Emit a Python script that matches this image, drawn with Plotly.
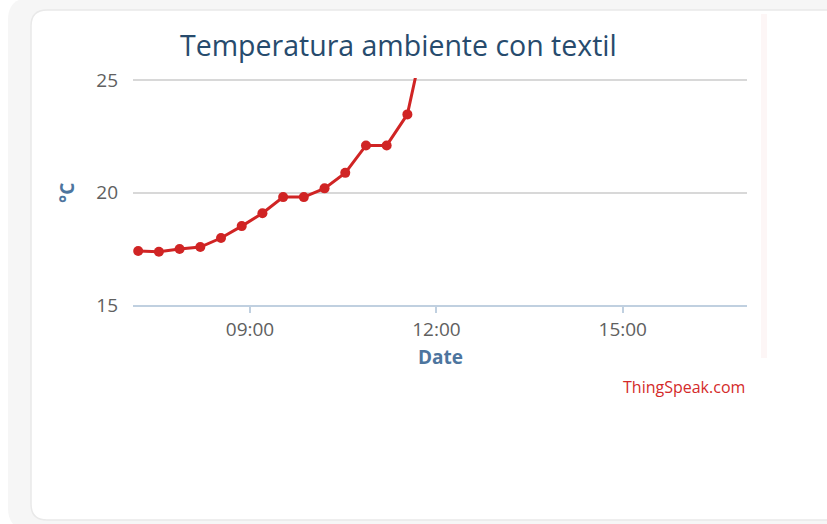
import plotly.graph_objects as go

# ---- data ----
times = ["2021-03-10 07:12", "2021-03-10 07:32", "2021-03-10 07:52", "2021-03-10 08:12",
         "2021-03-10 08:32", "2021-03-10 08:52", "2021-03-10 09:12", "2021-03-10 09:32",
         "2021-03-10 09:52", "2021-03-10 10:12", "2021-03-10 10:32", "2021-03-10 10:52",
         "2021-03-10 11:12", "2021-03-10 11:32", "2021-03-10 11:52"]
temps = [17.4, 17.37, 17.49, 17.58, 17.98, 18.51, 19.08, 19.8, 19.8, 20.19, 20.88, 22.1, 22.1, 23.48, 27.7]
x_tickvals = ["2021-03-10 09:00", "2021-03-10 12:00", "2021-03-10 15:00"]
x_ticktext = ["09:00", "12:00", "15:00"]
y_tickvals = [15, 20, 25]
x_range = ["2021-03-10 07:07", "2021-03-10 17:00"]
y_range = [15, 25.1]

W, H = 827, 524
L, R, T, B = 133, 747, 78, 305  # plot area pixels


def xp(px):
    return (px - L) / (R - L)


def yp(py):
    return (B - py) / (B - T)


FONT = "Open Sans"
fig = go.Figure()
fig.add_trace(go.Scatter(
    x=times, y=temps, mode="lines+markers",
    line=dict(color="#d02424", width=3),
    marker=dict(color="#d02424", size=10),
    cliponaxis=True, showlegend=False, hoverinfo="x+y"))


def rrect(x0, y0, x1, y1, r):
    X0, X1 = xp(x0), xp(x1)
    Y0, Y1 = yp(y0), yp(y1)
    rx = r / (R - L)
    ry = r / (B - T)
    return (f"M {X0+rx},{Y0} L {X1-rx},{Y0} Q {X1},{Y0} {X1},{Y0-ry} "
            f"L {X1},{Y1+ry} Q {X1},{Y1} {X1-rx},{Y1} L {X0+rx},{Y1} "
            f"Q {X0},{Y1} {X0},{Y1+ry} L {X0},{Y0-ry} Q {X0},{Y0} {X0+rx},{Y0} Z")


shapes = [
    dict(type="path", xref="paper", yref="paper", path=rrect(8, -2, 860, 530, 22),
         fillcolor="#f6f6f6", line=dict(width=0), layer="below"),
    dict(type="path", xref="paper", yref="paper", path=rrect(31, 10, 850, 520, 16),
         fillcolor="#ffffff", line=dict(color="#e9e9e9", width=1.5), layer="below"),
    dict(type="rect", xref="paper", yref="paper", x0=xp(761), x1=xp(767), y0=yp(14), y1=yp(358),
         fillcolor="#fdf6f6", line=dict(width=0), layer="below"),
]

annotations = [
    dict(text="Temperatura ambiente con textil", xref="paper", yref="paper",
         x=xp(398), y=yp(45), xanchor="center", yanchor="middle", showarrow=False,
         font=dict(family=FONT, size=28.5, color="#274b6d")),
    dict(text="Date", xref="paper", yref="paper", x=xp(440), y=yp(357),
         xanchor="center", yanchor="middle", showarrow=False,
         font=dict(family=FONT, size=19, color="#4d759e", weight="bold")),
    dict(text="°C", xref="paper", yref="paper", x=xp(67), y=yp(193), textangle=-90,
         xanchor="center", yanchor="middle", showarrow=False,
         font=dict(family=FONT, size=19, color="#4d759e", weight="bold")),
    dict(text="ThingSpeak.com", xref="paper", yref="paper", x=xp(747), y=yp(387),
         xanchor="right", yanchor="middle", showarrow=False,
         font=dict(family=FONT, size=16, color="#d42a2a")),
]

fig.update_layout(
    width=W, height=H,
    margin=dict(l=L, r=W - R, t=T, b=H - B, pad=0),
    paper_bgcolor="#ffffff", plot_bgcolor="rgba(0,0,0,0)",
    shapes=shapes, annotations=annotations, showlegend=False,
    xaxis=dict(type="date", range=x_range, tickvals=x_tickvals, ticktext=x_ticktext,
               showgrid=False, zeroline=False, showline=True, linecolor="#c0d0e0", linewidth=2,
               ticks="outside", ticklen=6, tickcolor="#c0d0e0", tickwidth=1.5,
               ticklabelstandoff=0,
               tickfont=dict(family=FONT, size=19, color="#606060")),
    yaxis=dict(range=y_range, tickvals=y_tickvals, showgrid=True, gridcolor="#d8d8d8",
               gridwidth=2, zeroline=False, showline=False, ticks="",
               ticklabelstandoff=14,
               tickfont=dict(family=FONT, size=19, color="#606060")),
)

fig.write_html("out.html", config={"displayModeBar": False},
               post_script="document.body.style.margin='0';document.body.style.overflow='hidden';")
